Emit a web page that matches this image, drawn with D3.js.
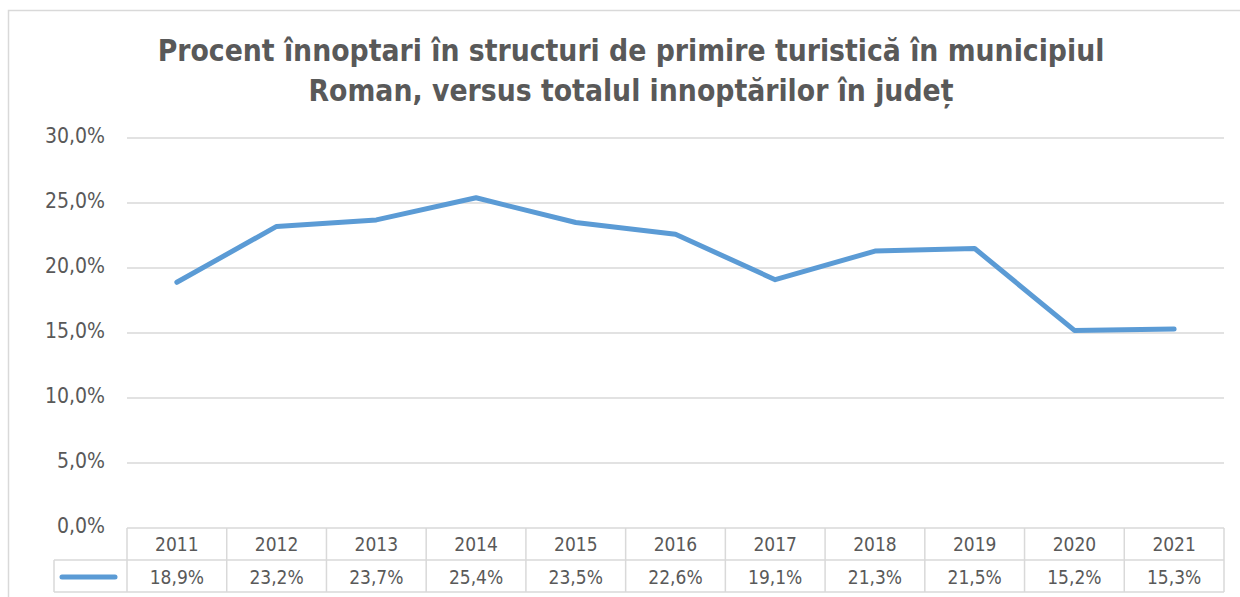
<!DOCTYPE html>
<html>
<head>
<meta charset="utf-8">
<script src="https://cdn.jsdelivr.net/npm/d3@7"></script>
<style>
  html, body { margin: 0; padding: 0; background: #fff; }
  svg { display: block; }
  text { font-family: "DejaVu Sans Condensed", "DejaVu Sans", sans-serif; }
</style>
</head>
<body>
<svg id="chart" width="1240" height="597"></svg>
<script>
// Data
const years = ["2011", "2012", "2013", "2014", "2015", "2016", "2017", "2018", "2019", "2020", "2021"];
const shares = [18.9, 23.2, 23.7, 25.4, 23.5, 22.6, 19.1, 21.3, 21.5, 15.2, 15.3];
const yTicks = [0, 5, 10, 15, 20, 25, 30];
const titleLines = [
  "Procent înnoptari în structuri de primire turistică în municipiul",
  "Roman, versus totalul innoptărilor în județ"
];

const fmt = v => v.toFixed(1).replace(".", ",") + "%";

const svg = d3.select("#chart");
const W = 1240, H = 597;
const plot = { left: 127, right: 1224, top: 138, bottom: 528 };
const rowH = 32;
const legendLeft = 54;

const textCol = "#595959";
const gridCol = "#d9d9d9";
const lineCol = "#5b9bd5";

// Chart frame
svg.append("rect")
  .attr("x", 8.5).attr("y", 10.5)
  .attr("width", W + 50).attr("height", H + 50)
  .attr("fill", "#fff").attr("stroke", gridCol).attr("stroke-width", 1.5);

// Title, sized so the first line spans its target width
const title = svg.append("g");
const t1 = title.append("text").text(titleLines[0])
  .attr("font-weight", "bold").attr("font-size", 30);
const w1 = t1.node().getComputedTextLength();
const titleSize = 30 * 947 / w1;
title.selectAll("text").remove();
title.selectAll("text").data(titleLines).join("text")
  .attr("x", 631)
  .attr("y", (d, i) => 61 + i * 40)
  .attr("text-anchor", "middle")
  .attr("font-weight", "bold")
  .attr("font-size", titleSize)
  .attr("fill", textCol)
  .text(d => d);

// Scales
const x = d3.scaleBand().domain(years).range([plot.left, plot.right]).padding(0);
const y = d3.scaleLinear().domain([0, 30]).range([plot.bottom, plot.top]);

// Gridlines
svg.append("g")
  .selectAll("line").data(yTicks.filter(v => v > 0)).join("line")
  .attr("x1", plot.left).attr("x2", plot.right)
  .attr("y1", d => y(d)).attr("y2", d => y(d))
  .attr("stroke", gridCol).attr("stroke-width", 1.5);

// Y axis labels
const yAxis = svg.append("g")
  .attr("transform", `translate(${plot.left - 22},0)`)
  .call(d3.axisLeft(y).tickValues(yTicks).tickFormat(fmt).tickSize(0).tickPadding(0));
yAxis.select(".domain").remove();
yAxis.selectAll("text")
  .attr("font-size", 21)
  .attr("fill", textCol)
  .attr("dy", "0.2em");

// Line
svg.append("path")
  .datum(shares)
  .attr("fill", "none")
  .attr("stroke", lineCol)
  .attr("stroke-width", 5)
  .attr("stroke-linejoin", "round")
  .attr("stroke-linecap", "round")
  .attr("d", d3.line()
    .x((d, i) => x(years[i]) + x.bandwidth() / 2)
    .y(d => y(d)));

// Data table beneath the plot
const table = svg.append("g");
const r1 = plot.bottom, r2 = plot.bottom + rowH, r3 = plot.bottom + 2 * rowH;
const bStroke = { stroke: gridCol, "stroke-width": 1.5 };
function hline(x1, x2, yy) {
  table.append("line").attr("x1", x1).attr("x2", x2).attr("y1", yy).attr("y2", yy)
    .attr("stroke", gridCol).attr("stroke-width", 1.5);
}
function vline(xx, y1, y2) {
  table.append("line").attr("x1", xx).attr("x2", xx).attr("y1", y1).attr("y2", y2)
    .attr("stroke", gridCol).attr("stroke-width", 1.5);
}
hline(plot.left, plot.right, r1);
hline(legendLeft, plot.right, r2);
hline(legendLeft, plot.right, r3);
vline(legendLeft, r2, r3);
years.forEach(yr => vline(x(yr), r1, r3));
vline(plot.right, r1, r3);

table.selectAll("text.yr").data(years).join("text")
  .attr("class", "yr")
  .attr("x", d => x(d) + x.bandwidth() / 2)
  .attr("y", r1 + rowH / 2)
  .attr("dy", "0.36em")
  .attr("text-anchor", "middle")
  .attr("font-size", 19)
  .attr("fill", textCol)
  .text(d => d);

table.selectAll("text.val").data(shares).join("text")
  .attr("class", "val")
  .attr("x", (d, i) => x(years[i]) + x.bandwidth() / 2)
  .attr("y", r2 + rowH / 2 + 1)
  .attr("dy", "0.36em")
  .attr("text-anchor", "middle")
  .attr("font-size", 19)
  .attr("fill", textCol)
  .text(d => fmt(d));

// Legend key in the table
table.append("line")
  .attr("x1", 62).attr("x2", 115)
  .attr("y1", r2 + rowH / 2 + 1).attr("y2", r2 + rowH / 2 + 1)
  .attr("stroke", lineCol).attr("stroke-width", 5).attr("stroke-linecap", "round");
</script>
</body>
</html>
